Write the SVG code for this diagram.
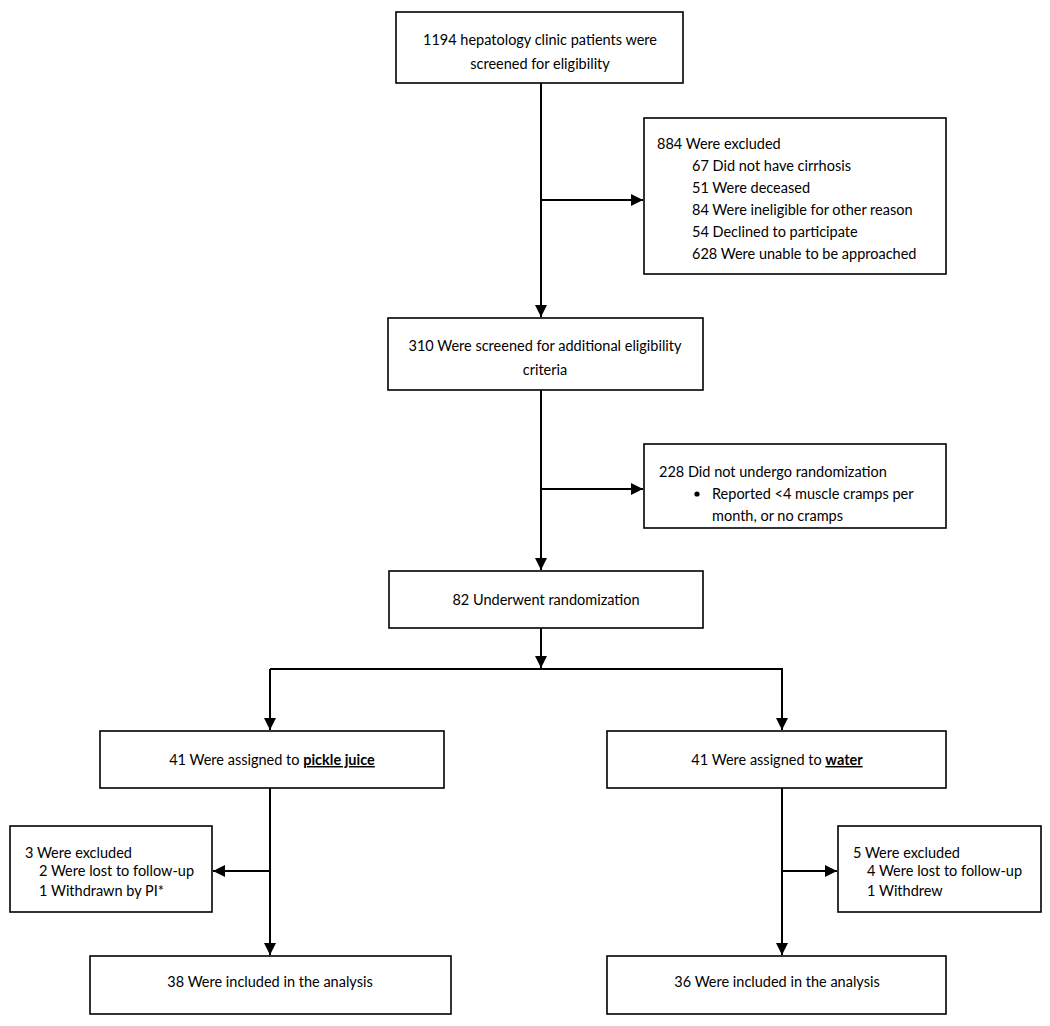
<svg xmlns="http://www.w3.org/2000/svg" width="1050" height="1026" viewBox="0 0 1050 1026">
<style>
.box{fill:#fff;stroke:#000;stroke-width:1.6}
.t{font-family:Lato,"Liberation Sans",sans-serif;font-size:14.5px;fill:#000}
.c{text-anchor:middle}
.ln{stroke:#000;stroke-width:2;fill:none}
.b{font-weight:bold;text-decoration:underline}
</style>
<defs>
<marker id="ah" viewBox="0 0 10 10" refX="10" refY="5" markerWidth="6" markerHeight="6" orient="auto" markerUnits="strokeWidth">
<path d="M0,0 L10,5 L0,10 z" fill="#000"/>
</marker>
</defs>
<rect width="1050" height="1026" fill="#fff"/>
<g id="connectors">
<path class="ln" d="M541,83 V317" marker-end="url(#ah)"/>
<path class="ln" d="M541,200 H643" marker-end="url(#ah)"/>
<path class="ln" d="M541,390 V570" marker-end="url(#ah)"/>
<path class="ln" d="M541,489 H643" marker-end="url(#ah)"/>
<path class="ln" d="M541,628 V668" marker-end="url(#ah)"/>
<path class="ln" d="M270,669 H782 V730" marker-end="url(#ah)"/>
<path class="ln" d="M270,669 V730" marker-end="url(#ah)"/>
<path class="ln" d="M270,788 V955" marker-end="url(#ah)"/>
<path class="ln" d="M270,871 H213" marker-end="url(#ah)"/>
<path class="ln" d="M782,788 V955" marker-end="url(#ah)"/>
<path class="ln" d="M782,871 H837" marker-end="url(#ah)"/>
</g>
<g id="n1"><rect class="box" x="396" y="12" width="287" height="71"/>
<text class="t c" x="540" y="45">1194 hepatology clinic patients were</text>
<text class="t c" x="540" y="69">screened for eligibility</text></g>
<g id="n2"><rect class="box" x="644" y="118" width="302" height="156"/>
<text class="t" x="657" y="149">884 Were excluded</text>
<text class="t" x="692" y="171">67 Did not have cirrhosis</text>
<text class="t" x="692" y="193">51 Were deceased</text>
<text class="t" x="692" y="215">84 Were ineligible for other reason</text>
<text class="t" x="692" y="237">54 Declined to participate</text>
<text class="t" x="692" y="259">628 Were unable to be approached</text></g>
<g id="n3"><rect class="box" x="388" y="318" width="315" height="72"/>
<text class="t c" x="545" y="351">310 Were screened for additional eligibility</text>
<text class="t c" x="545" y="375">criteria</text></g>
<g id="n4"><rect class="box" x="644" y="444" width="302" height="84"/>
<text class="t" x="659" y="477">228 Did not undergo randomization</text>
<circle cx="697" cy="494" r="2.6" fill="#000"/>
<text class="t" x="712" y="499">Reported &lt;4 muscle cramps per</text>
<text class="t" x="712" y="521">month, or no cramps</text></g>
<g id="n5"><rect class="box" x="389" y="571" width="314" height="57"/>
<text class="t c" x="546" y="605">82 Underwent randomization</text></g>
<g id="n6"><rect class="box" x="100" y="731" width="344" height="57"/>
<text class="t c" x="272" y="765">41 Were assigned to <tspan class="b">pickle juice</tspan></text></g>
<g id="n7"><rect class="box" x="607" y="731" width="339" height="57"/>
<text class="t c" x="777" y="765">41 Were assigned to <tspan class="b">water</tspan></text></g>
<g id="n8"><rect class="box" x="10" y="826" width="202" height="86"/>
<text class="t" x="25" y="858">3 Were excluded</text>
<text class="t" x="39" y="876">2 Were lost to follow-up</text>
<text class="t" x="39" y="896">1 Withdrawn by PI*</text></g>
<g id="n9"><rect class="box" x="838" y="826" width="203" height="86"/>
<text class="t" x="853" y="858">5 Were excluded</text>
<text class="t" x="867" y="876">4 Were lost to follow-up</text>
<text class="t" x="867" y="896">1 Withdrew</text></g>
<g id="n10"><rect class="box" x="90" y="956" width="361" height="58"/>
<text class="t c" x="270" y="987">38 Were included in the analysis</text></g>
<g id="n11"><rect class="box" x="607" y="956" width="339" height="58"/>
<text class="t c" x="777" y="987">36 Were included in the analysis</text></g>
</svg>
